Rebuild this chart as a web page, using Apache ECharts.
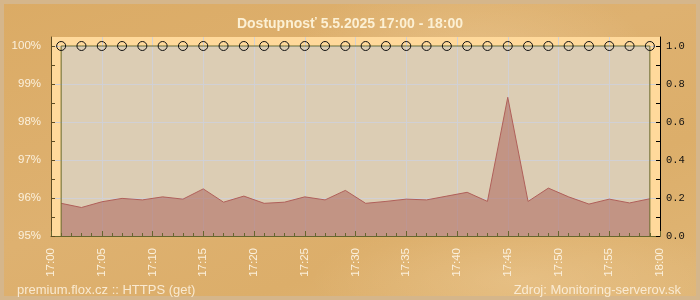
<!DOCTYPE html>
<html>
<head>
<meta charset="utf-8">
<script src="https://cdn.jsdelivr.net/npm/echarts@6/dist/echarts.min.js"></script>
<style>
  html, body { margin: 0; padding: 0; }
  #wrap {
    position: relative; width: 700px; height: 300px; box-sizing: border-box;
    background:
      radial-gradient(ellipse 260px 120px at 470px 60px, rgba(255,235,200,0.25), rgba(255,235,200,0) 70%),
      radial-gradient(ellipse 300px 90px at 520px 280px, rgba(255,230,190,0.25), rgba(255,230,190,0) 70%),
      linear-gradient(160deg, #dbab65 0%, #deb170 45%, #dcae6a 70%, #e0b676 100%);
  }
  #frame {
    position: absolute; left: 0; top: 0; width: 700px; height: 300px; box-sizing: border-box;
    border: 4px solid #d5b68b; pointer-events: none;
  }
  #chart { position: absolute; left: 0; top: 0; width: 700px; height: 300px; }
</style>
</head>
<body>
<div id="wrap"><div id="frame"></div><div id="chart"></div></div>
<script>
// ---- data ----
var times = ['17:01','17:03','17:05','17:07','17:09','17:11','17:13','17:15','17:17','17:19',
             '17:21','17:23','17:25','17:27','17:29','17:31','17:33','17:35','17:37','17:39',
             '17:41','17:43','17:45','17:47','17:49','17:51','17:53','17:55','17:57','17:59'];
var availability = [95.86,95.75,95.90,95.99,95.95,96.03,95.97,96.24,95.89,96.05,
                    95.86,95.89,96.03,95.95,96.20,95.86,95.91,95.97,95.95,96.05,
                    96.15,95.91,98.65,95.91,96.26,96.03,95.84,95.97,95.87,95.98];
var statusValues = [1,1,1,1,1,1,1,1,1,1,1,1,1,1,1,1,1,1,1,1,1,1,1,1,1,1,1,1,1,1];
var xTickLabels = ['17:00','17:05','17:10','17:15','17:20','17:25','17:30','17:35','17:40','17:45','17:50','17:55','18:00'];
var leftTicks = [95,96,97,98,99,100];
var leftMinorTicks = [95,95.5,96,96.5,97,97.5,98,98.5,99,99.5,100];
var rightTicks = [0,0.2,0.4,0.6,0.8,1.0];
var rightMinorTicks = [0,0.1,0.2,0.3,0.4,0.5,0.6,0.7,0.8,0.9,1.0];
var titleText = 'Dostupnosť 5.5.2025 17:00 - 18:00';
var footLeft = 'premium.flox.cz :: HTTPS (get)';
var footRight = 'Zdroj: Monitoring-serverov.sk';

// ---- build ----
function toMin(t) { var p = t.split(':'); return (+p[0] - 17) * 60 + (+p[1]); }
var xs = times.map(toMin);
var availData = xs.map(function (x, i) { return [x, availability[i]]; });
var statusPts = xs.map(function (x, i) { return [x, statusValues[i]]; });
var statusEdges = [[xs[0], 0]].concat(statusPts).concat([[xs[xs.length - 1], 0]]);

var LMIN = 95, LMAX = 100 + 9 / 38;
var RMIN = 0, RMAX = 1 + 9 / 190;
var font = 'Liberation Sans, Arial, sans-serif';
var cream = '#fbf0dc';
var gridCol = 'rgba(208,208,214,0.95)';

var chart = echarts.init(document.getElementById('chart'), null, {renderer: 'canvas'});
chart.setOption({
  animation: false,
  backgroundColor: 'transparent',
  title: [
    {text: titleText, left: 'center', top: 12,
     textStyle: {color: '#fcf0d4', fontSize: 14, fontWeight: 'bold', fontFamily: font}},
    {text: footLeft, left: 12, top: 279,
     textStyle: {color: 'rgba(252,240,220,0.9)', fontSize: 13, fontWeight: 'normal', fontFamily: font}},
    {text: footRight, right: 14, top: 279,
     textStyle: {color: 'rgba(252,240,220,0.9)', fontSize: 13, fontWeight: 'normal', fontFamily: font}}
  ],
  grid: {left: 51, right: 40, top: 37, bottom: 64, show: true, backgroundColor: '#ffd99b', borderWidth: 0},
  xAxis: [
    {type: 'value', min: 0, max: 60, interval: 5, z: 10,
     axisLine: {show: true, onZero: false, lineStyle: {color: '#66662e', width: 1}},
     axisTick: {show: true, inside: true, length: 5, lineStyle: {color: '#66662e'}},
     minorTick: {show: true, splitNumber: 5, length: 3, lineStyle: {color: '#66662e'}},
     splitLine: {show: false},
     axisLabel: {rotate: 90, margin: 12, color: cream, fontSize: 11.5, fontFamily: font,
       formatter: function (v) { return xTickLabels[Math.round(v / 5)]; }}},
    {type: 'value', min: 0, max: 60, interval: 5, z: 2, position: 'bottom',
     axisLine: {show: false}, axisTick: {show: false}, axisLabel: {show: false},
     splitLine: {show: true, lineStyle: {color: gridCol, width: 1}}}
  ],
  yAxis: [
    {type: 'value', min: LMIN, max: LMAX, position: 'left', z: 10,
     axisLine: {show: true, onZero: false, lineStyle: {color: '#5e4c22'}},
     axisTick: {show: true, inside: true, length: 4, customValues: leftMinorTicks, lineStyle: {color: '#5e4c22'}},
     axisLabel: {customValues: leftTicks, margin: 10, color: cream, fontSize: 11.5, fontFamily: font,
       formatter: function (v) { return Math.round(v) + '%'; }},
     splitLine: {show: false}},
    {type: 'value', min: RMIN, max: RMAX, position: 'right', z: 10,
     axisLine: {show: true, onZero: false, lineStyle: {color: '#000'}},
     axisTick: {show: true, inside: true, length: 4, customValues: rightMinorTicks, lineStyle: {color: '#000'}},
     axisLabel: {customValues: rightTicks, margin: 6, color: '#111', fontSize: 10.5, fontFamily: 'Liberation Mono, DejaVu Sans Mono, monospace',
       formatter: function (v) { return v.toFixed(1); }},
     splitLine: {show: false}},
    {type: 'value', min: LMIN, max: LMAX, interval: 1, position: 'left', z: 2,
     axisLine: {show: false}, axisTick: {show: false}, axisLabel: {show: false},
     splitLine: {show: true, showMinLine: false, showMaxLine: false, lineStyle: {color: gridCol, width: 1}}}
  ],
  series: [
    {name: 'status-fill', type: 'line', xAxisIndex: 0, yAxisIndex: 1, z: 1,
     data: statusEdges, symbol: 'none',
     lineStyle: {width: 0, color: 'rgba(0,0,0,0)'},
     areaStyle: {color: 'rgba(192,194,200,0.55)', opacity: 1, origin: 'start'}},
    {name: 'availability', type: 'line', xAxisIndex: 0, yAxisIndex: 0, z: 3,
     data: availData, symbol: 'none',
     lineStyle: {color: '#b0605a', width: 1},
     areaStyle: {color: 'rgba(172,100,92,0.78)', origin: 'start'}},
    {name: 'status-edge', type: 'line', xAxisIndex: 0, yAxisIndex: 1, z: 5,
     data: statusEdges, symbol: 'none', clip: false,
     lineStyle: {color: '#6a6a2c', width: 1}},
    {name: 'status', type: 'line', xAxisIndex: 0, yAxisIndex: 1, z: 6,
     data: statusPts, symbol: 'circle', symbolSize: 9, showAllSymbol: true, clip: false,
     itemStyle: {color: 'rgba(0,0,0,0)', borderColor: '#111', borderWidth: 1},
     lineStyle: {width: 0, color: 'rgba(0,0,0,0)'}}
  ]
});
</script>
</body>
</html>
